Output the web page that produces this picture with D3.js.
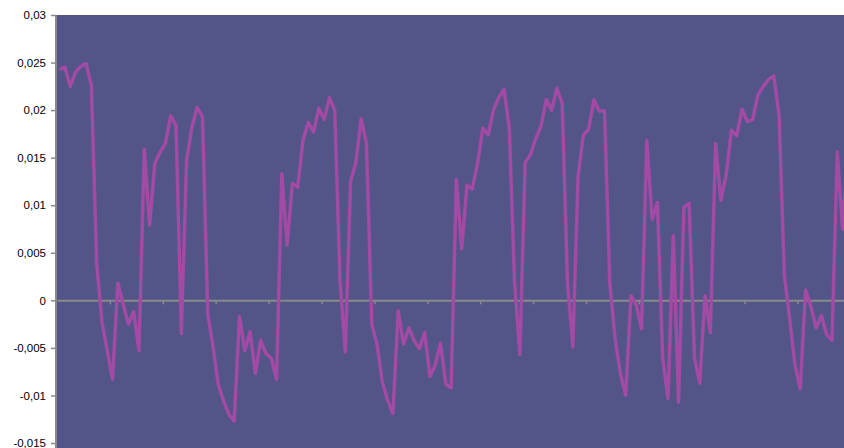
<!DOCTYPE html>
<html>
<head>
<meta charset="utf-8">
<script src="https://cdn.jsdelivr.net/npm/d3@7"></script>
<style>
  html, body { margin: 0; padding: 0; background: #ffffff; }
  svg { display: block; }
</style>
</head>
<body>
<script>
// ---- data ----
const categories = d3.range(1, 151);
const values = [
  0.0243, 0.0245, 0.0225, 0.0240, 0.0246, 0.0249, 0.0226, 0.0039, -0.0023, -0.0053,
  -0.0083, 0.0018, -0.0004, -0.0025, -0.0012, -0.0053, 0.0159, 0.0079, 0.0144, 0.0156,
  0.0165, 0.0194, 0.0184, -0.0035, 0.0147, 0.0182, 0.0203, 0.0193, -0.0014, -0.0049,
  -0.0089, -0.0106, -0.0120, -0.0127, -0.0017, -0.0053, -0.0033, -0.0077, -0.0042, -0.0056,
  -0.0061, -0.0083, 0.0133, 0.0058, 0.0123, 0.0119, 0.0168, 0.0187, 0.0177, 0.0202,
  0.0190, 0.0213, 0.0200, 0.0021, -0.0054, 0.0125, 0.0145, 0.0191, 0.0165, -0.0025,
  -0.0046, -0.0086, -0.0105, -0.0119, -0.0011, -0.0046, -0.0029, -0.0042, -0.0051, -0.0034,
  -0.0080, -0.0068, -0.0045, -0.0088, -0.0092, 0.0127, 0.0054, 0.0121, 0.0117, 0.0144,
  0.0181, 0.0174, 0.0200, 0.0213, 0.0222, 0.0181, 0.0019, -0.0057, 0.0145, 0.0153,
  0.0170, 0.0183, 0.0211, 0.0200, 0.0223, 0.0207, 0.0019, -0.0049, 0.0130, 0.0174,
  0.0180, 0.0211, 0.0199, 0.0199, 0.0018, -0.0040, -0.0077, -0.0100, 0.0005, -0.0005,
  -0.0030, 0.0168, 0.0085, 0.0103, -0.0061, -0.0103, 0.0068, -0.0107, 0.0098, 0.0102,
  -0.0060, -0.0087, 0.0005, -0.0034, 0.0165, 0.0105, 0.0132, 0.0179, 0.0173, 0.0201,
  0.0188, 0.0190, 0.0216, 0.0225, 0.0232, 0.0236, 0.0195, 0.0026, -0.0019, -0.0068,
  -0.0093, 0.0011, -0.0006, -0.0029, -0.0016, -0.0036, -0.0042, 0.0156, 0.0075, 0.0160
];
const yTicks = [-0.015, -0.01, -0.005, 0, 0.005, 0.01, 0.015, 0.02, 0.025, 0.03];
const categoryTickEvery = 10;

// ---- layout ----
const W = 844, H = 448;
const plotLeft = 57, plotTop = 15, plotBottomValueY = 443;
const catWidth = 5.29;
const plotRight = plotLeft + categories.length * catWidth;

const svg = d3.select("body").append("svg")
  .attr("width", W).attr("height", H)
  .style("overflow", "hidden");

const x = d3.scaleLinear().domain([0, categories.length]).range([plotLeft, plotRight]);
const y = d3.scaleLinear().domain([-0.015, 0.03]).range([plotBottomValueY, plotTop]);

// plot background
svg.append("rect")
  .attr("x", plotLeft).attr("y", plotTop)
  .attr("width", plotRight - plotLeft).attr("height", H - plotTop + 10)
  .attr("fill", "#535589");

// zero line with category tick marks
const zeroG = svg.append("g")
  .attr("transform", `translate(0,${y(0)})`);
const xAxis = d3.axisBottom(x)
  .tickValues(d3.range(categoryTickEvery, categories.length + 1, categoryTickEvery))
  .tickSize(4)
  .tickSizeOuter(0)
  .tickFormat("");
zeroG.call(xAxis);
zeroG.select(".domain").attr("stroke", "#8a8a8a").attr("stroke-width", 2);
zeroG.selectAll(".tick line").attr("stroke", "#8a8a8a").attr("stroke-width", 1.5);

// y axis
const fmt = v => (Math.round(v * 1000) / 1000).toString().replace(".", ",");
const yG = svg.append("g").attr("transform", `translate(${plotLeft - 1},0)`);
yG.call(d3.axisLeft(y).tickValues(yTicks).tickSize(5).tickSizeOuter(0).tickFormat(fmt));
yG.select(".domain").attr("stroke", "#8a8a8a").attr("stroke-width", 2)
  .attr("d", `M0,${plotTop}V${H + 10}`);
yG.selectAll(".tick line").attr("stroke", "#8a8a8a").attr("stroke-width", 1.5);
yG.selectAll(".tick text")
  .attr("x", -10)
  .attr("fill", "#000")
  .style("font-family", "'Liberation Sans', Arial, sans-serif")
  .style("font-size", "11.5px");

// series line
const line = d3.line()
  .x((d, i) => x(i + 0.5))
  .y(d => y(d));
svg.append("path")
  .datum(values)
  .attr("fill", "none")
  .attr("stroke", "#a34aa4")
  .attr("stroke-width", 3.4)
  .attr("stroke-linejoin", "round")
  .attr("d", line);
</script>
</body>
</html>
